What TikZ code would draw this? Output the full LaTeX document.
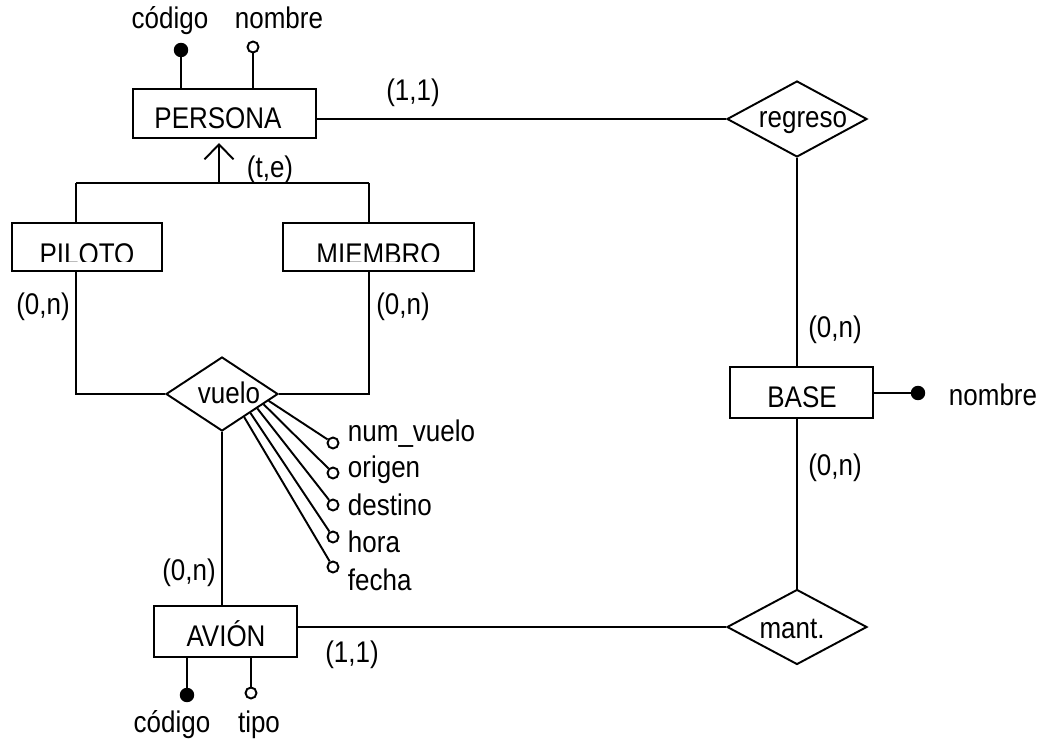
\documentclass[tikz,border=0pt]{standalone}
\usepackage{fontspec}
\setmainfont[FakeStretch=0.87]{Liberation Sans}
\usetikzlibrary{shapes.geometric,arrows.meta,calc}
\begin{document}
\begin{tikzpicture}[x=0.02cm,y=-0.02cm,
  line width=1.1pt,
  every node/.style={font=\fontsize{17}{20}\selectfont},
  entity/.style={draw, rectangle, inner sep=0pt},
  rel/.style={draw, diamond, inner sep=0pt},
  lbl/.style={inner sep=0pt, anchor=base},
  attlbl/.style={inner sep=0pt, anchor=base west},
  keyatt/.style={circle, draw, fill=black, inner sep=0pt, minimum size=0.25cm},
  optatt/.style={circle, draw, fill=white, inner sep=0pt, minimum size=0.22cm},
  isaarrow/.style={-{Straight Barb[length=8.5pt,width=16.5pt]}}
]
\useasboundingbox (0,0) rectangle (1041,743);

% entities
\node[entity, minimum width=3.66cm, minimum height=0.98cm] (persona) at (224.5,113.5) {};
\node[entity, minimum width=3.00cm, minimum height=0.96cm] (piloto) at (87,247) {};
\node[entity, minimum width=3.82cm, minimum height=0.96cm] (miembro) at (378.5,247) {};
\node[entity, minimum width=2.86cm, minimum height=1.02cm] (avion) at (225.5,631.5) {};
\node[entity, minimum width=2.86cm, minimum height=1.02cm] (base) at (801.5,392.5) {};

% relationships
\node[rel, minimum width=2.24cm, minimum height=1.48cm] (vuelo) at (222,394) {};
\node[rel, minimum width=2.80cm, minimum height=1.52cm] (regreso) at (797,119) {};
\node[rel, minimum width=2.80cm, minimum height=1.50cm] (mant) at (797,627) {};

% names
\node[lbl] (personatxt) at (218,129) {PERSONA};
\begin{scope}
  \clip (12,223) rectangle (474,261);
  \node[lbl] (pilototxt) at (87,264.5) {PILOTO};
  \node[lbl] (miembrotxt) at (378.5,264.5) {MIEMBRO};
\end{scope}
\node[lbl] (aviontxt) at (226,646) {AVIÓN};
\node[lbl] (basetxt) at (802,407) {BASE};
\node[lbl] (vuelotxt) at (229,403) {vuelo};
\node[lbl] (regresotxt) at (803,128) {regreso};
\node[lbl] (manttxt) at (792,638) {mant.};

% generalisation
\coordinate (isa) at (219,183);
\coordinate (isatip) at (219,143);
\coordinate (isaL) at (76,183);
\coordinate (isaR) at (369,183);
\draw[isaarrow] (isa) -- (isatip);
\draw (isaL) -- (isaR);
\draw (isaL) -- (isaL |- piloto.north);
\draw (isaR) -- (isaR |- miembro.north);
\node[lbl] (te) at (270,178) {(t,e)};

% vuelo connections
\draw (isaL |- piloto.south) -- (isaL |- vuelo.west) -- (vuelo.west);
\draw (isaR |- miembro.south) -- (isaR |- vuelo.east) -- (vuelo.east);
\draw (vuelo.south) -- (vuelo.south |- avion.north);
\node[lbl] (cpil) at (43,315) {(0,n)};
\node[lbl] (cmie) at (403,315) {(0,n)};
\node[lbl] (cavv) at (189,580) {(0,n)};

% regreso and mant.
\draw (regreso.west) -- (persona.east |- regreso.west);
\draw (regreso.south) -- (regreso.south |- base.north);
\draw (mant.north) -- (mant.north |- base.south);
\draw (mant.west) -- (avion.east |- mant.west);
\node[lbl] (cper) at (413,101) {(1,1)};
\node[lbl] (cbr) at (835,337) {(0,n)};
\node[lbl] (cbm) at (835,475) {(0,n)};
\node[lbl] (cav) at (352,662) {(1,1)};

% PERSONA attributes
\node[keyatt] (pcod) at (181,50) {};
\node[optatt] (pnom) at (253,47) {};
\draw (pcod) -- (pcod |- persona.north);
\draw (pnom) -- (pnom |- persona.north);
\node[lbl] (pcodtxt) at (170,29) {código};
\node[lbl] (pnomtxt) at (279,29) {nombre};

% AVIÓN attributes
\node[keyatt] (acod) at (187,695) {};
\node[optatt] (atip) at (251,693) {};
\draw (acod) -- (acod |- avion.south);
\draw (atip) -- (atip |- avion.south);
\node[lbl] (acodtxt) at (172,732) {código};
\node[lbl] (atiptxt) at (259,732) {tipo};

% BASE attribute
\node[keyatt] (bnom) at (918,393) {};
\draw (bnom) -- (base.east |- bnom);
\node[attlbl] (bnomtxt) at (948,405) {nombre};

% vuelo attributes
\node[optatt] (v1) at (333,443) {};
\node[optatt] (v2) at (333,473) {};
\node[optatt] (v3) at (333,505) {};
\node[optatt] (v4) at (333,537) {};
\node[optatt] (v5) at (333,567) {};
\draw ($(vuelo.east)!0.18!(vuelo.south)$) -- (v1);
\draw ($(vuelo.east)!0.27!(vuelo.south)$) -- (v2);
\draw ($(vuelo.east)!0.38!(vuelo.south)$) -- (v3);
\draw ($(vuelo.east)!0.50!(vuelo.south)$) -- (v4);
\draw ($(vuelo.east)!0.61!(vuelo.south)$) -- (v5);
\node[attlbl] (v1txt) at (347,441) {num\_vuelo};
\node[attlbl] (v2txt) at (347,477) {origen};
\node[attlbl] (v3txt) at (347,515) {destino};
\node[attlbl] (v4txt) at (347,552) {hora};
\node[attlbl] (v5txt) at (347,590) {fecha};
\end{tikzpicture}
\end{document}
